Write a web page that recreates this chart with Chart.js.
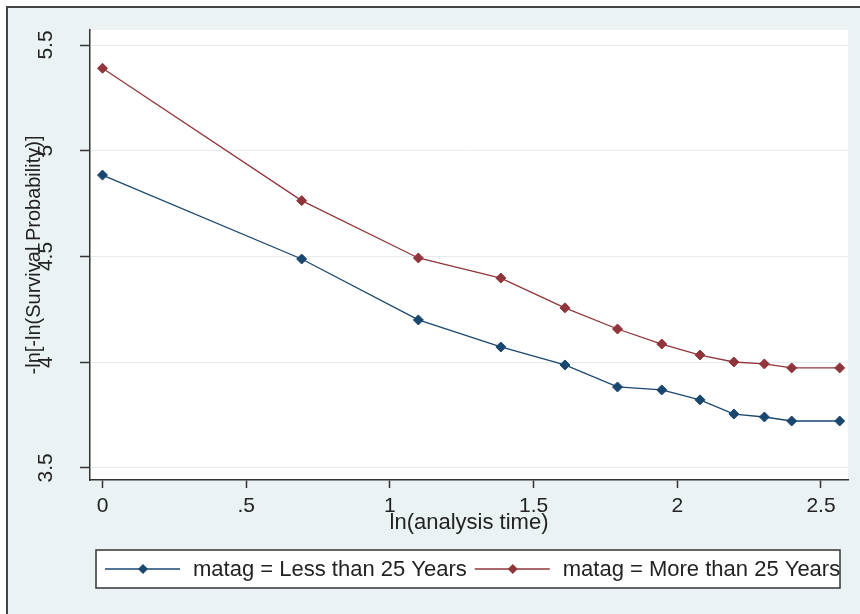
<!DOCTYPE html>
<html>
<head>
<meta charset="utf-8">
<script src="https://cdn.jsdelivr.net/npm/chart.js@4"></script>
<style>
  html, body { margin: 0; padding: 0; background: #fff; }
  #wrap { width: 860px; height: 614px; }
</style>
</head>
<body>
<div id="wrap"><canvas id="chart" width="860" height="614"></canvas></div>
<script>
// x = ln(analysis time)
const lnTime = [0, 0.693, 1.099, 1.386, 1.609, 1.792, 1.946, 2.079, 2.197, 2.303, 2.398, 2.565];
const lessThan25 = [4.885, 4.488, 4.200, 4.072, 3.987, 3.883, 3.869, 3.822, 3.755, 3.741, 3.722, 3.722];
const moreThan25 = [5.390, 4.764, 4.493, 4.398, 4.257, 4.157, 4.086, 4.034, 4.001, 3.992, 3.973, 3.973];
const seriesNames = ["matag = Less than 25 Years", "matag = More than 25 Years"];
const xTicks = [0, 0.5, 1, 1.5, 2, 2.5];
const xTickLabels = ["0", ".5", "1", "1.5", "2", "2.5"];
const yTicks = [3.5, 4, 4.5, 5, 5.5];
const yTickLabels = ["3.5", "4", "4.5", "5", "5.5"];

const FONT = "'Liberation Sans', Arial, sans-serif";
const BLUE = "#1a476f";
const RED = "#90353b";
const INK = "#222";

const toPoints = (ys) => lnTime.map((x, i) => ({ x: x, y: ys[i] }));

// background, outer frame, y tick labels and the legend
const stataFrame = {
  id: "stataFrame",
  beforeDraw(chart) {
    const { ctx, chartArea: a, width, height } = chart;
    ctx.save();
    ctx.fillStyle = "#ffffff";
    ctx.fillRect(0, 0, width, height);
    ctx.fillStyle = "#eaf2f3";
    ctx.fillRect(8, 8, width - 8, height - 8);
    ctx.strokeStyle = "#444";
    ctx.lineWidth = 2;
    ctx.beginPath();
    ctx.moveTo(7, height);
    ctx.lineTo(7, 7);
    ctx.lineTo(width, 7);
    ctx.stroke();
    ctx.fillStyle = "#ffffff";
    ctx.fillRect(a.left, a.top, a.right - a.left, a.bottom - a.top);
    ctx.restore();
  },
  afterDraw(chart) {
    const { ctx } = chart;
    const ys = chart.scales.y;
    ctx.save();
    // rotated y tick labels
    ctx.fillStyle = INK;
    ctx.font = "21px " + FONT;
    ctx.textAlign = "center";
    ctx.textBaseline = "middle";
    yTicks.forEach((v, i) => {
      const py = ys.getPixelForValue(v);
      ctx.save();
      ctx.translate(46, py);
      ctx.rotate(-Math.PI / 2);
      ctx.fillText(yTickLabels[i], 0, 0);
      ctx.restore();
    });

    // legend
    const bx = 96, by = 550, bw = 744, bh = 38;
    ctx.fillStyle = "#ffffff";
    ctx.fillRect(bx, by, bw, bh);
    ctx.strokeStyle = "#333";
    ctx.lineWidth = 1.5;
    ctx.strokeRect(bx, by, bw, bh);
    const cy = by + bh / 2;
    let x = 105;
    ctx.font = "22px " + FONT;
    ctx.textAlign = "left";
    chart.data.datasets.forEach((ds) => {
      ctx.strokeStyle = ds.borderColor;
      ctx.lineWidth = 1.3;
      ctx.beginPath();
      ctx.moveTo(x, cy);
      ctx.lineTo(x + 75, cy);
      ctx.stroke();
      const mx = x + 38;
      ctx.fillStyle = ds.pointBackgroundColor;
      ctx.beginPath();
      ctx.moveTo(mx, cy - 5);
      ctx.lineTo(mx + 5, cy);
      ctx.lineTo(mx, cy + 5);
      ctx.lineTo(mx - 5, cy);
      ctx.closePath();
      ctx.fill();
      ctx.fillStyle = INK;
      ctx.fillText(ds.label, x + 88, cy + 1);
      x = x + 88 + ctx.measureText(ds.label).width + 8;
    });
    ctx.restore();
  }
};

new Chart(document.getElementById("chart"), {
  type: "line",
  data: {
    datasets: [
      {
        label: seriesNames[0],
        data: toPoints(lessThan25),
        borderColor: BLUE,
        backgroundColor: BLUE,
        pointBackgroundColor: BLUE,
        pointBorderColor: BLUE,
        borderWidth: 1.3,
        pointStyle: "rectRot",
        pointRadius: 5,
        pointBorderWidth: 1,
        tension: 0
      },
      {
        label: seriesNames[1],
        data: toPoints(moreThan25),
        borderColor: RED,
        backgroundColor: RED,
        pointBackgroundColor: RED,
        pointBorderColor: RED,
        borderWidth: 1.3,
        pointStyle: "rectRot",
        pointRadius: 5,
        pointBorderWidth: 1,
        tension: 0
      }
    ]
  },
  options: {
    responsive: false,
    animation: false,
    devicePixelRatio: 1,
    layout: { padding: { left: 0, top: 30, right: 12, bottom: 78 } },
    plugins: {
      legend: { display: false },
      tooltip: { enabled: false }
    },
    scales: {
      x: {
        type: "linear",
        min: -0.0435,
        max: 2.594,
        afterBuildTicks: (s) => { s.ticks = xTicks.map((v) => ({ value: v })); },
        afterFit: (s) => { s.height = 56; },
        ticks: {
          color: INK,
          font: { family: FONT, size: 21 },
          padding: 6,
          maxRotation: 0,
          callback: (v) => xTickLabels[xTicks.indexOf(v)]
        },
        grid: { drawOnChartArea: false, drawTicks: true, tickLength: 8, tickColor: "#333", tickWidth: 1.5 },
        border: { display: true, color: "#333", width: 1.5 },
        title: {
          display: true,
          text: "ln(analysis time)",
          color: INK,
          font: { family: FONT, size: 22 },
          padding: { top: 0, bottom: 0 }
        }
      },
      y: {
        type: "linear",
        min: 3.443,
        max: 5.571,
        afterBuildTicks: (s) => { s.ticks = yTicks.map((v) => ({ value: v })); },
        afterFit: (s) => { s.width = 90; },
        ticks: { display: false },
        grid: { color: "#e6eced", lineWidth: 1, drawTicks: true, tickLength: 10, tickColor: "#333", tickWidth: 1.5 },
        border: { display: true, color: "#333", width: 1.5 },
        title: {
          display: true,
          text: "-ln[-ln(Survival Probability)]",
          color: INK,
          font: { family: FONT, size: 20 },
          padding: { top: 22, bottom: 0 }
        }
      }
    }
  },
  plugins: [stataFrame]
});
</script>
</body>
</html>
